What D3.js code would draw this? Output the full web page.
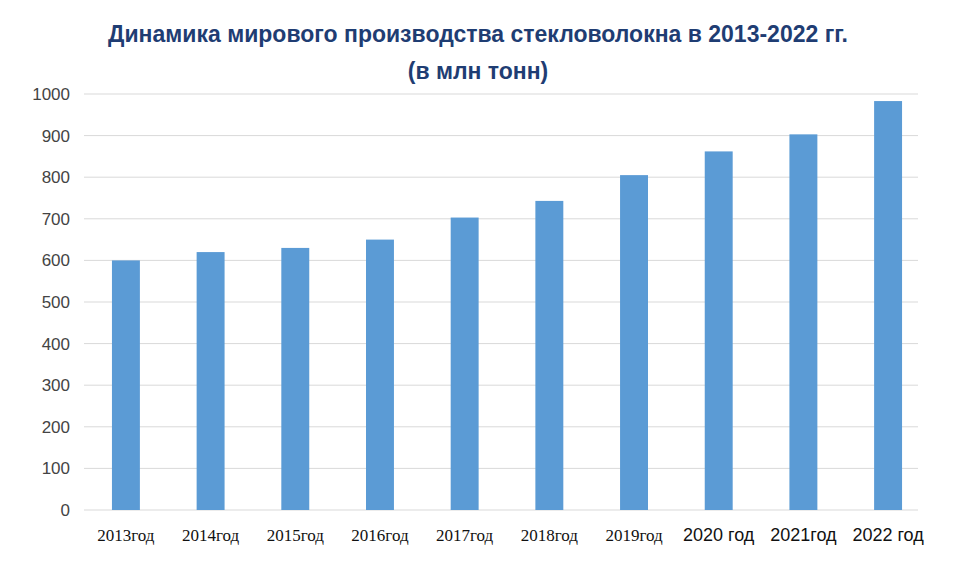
<!DOCTYPE html><html><head><meta charset="utf-8"><script src="https://cdn.jsdelivr.net/npm/d3@7"></script>
<style>body{margin:0;background:#fff}</style></head><body><svg id="c" width="958" height="576"></svg>
<script>
const categories=["2013год","2014год","2015год","2016год","2017год","2018год","2019год","2020 год","2021год","2022 год"];
const values=[600,620,630,650,703,743,805,862,903,983];
const yTicks=[0,100,200,300,400,500,600,700,800,900,1000];
const svg=d3.select("#c");
const x=d3.scaleBand().domain(categories).range([84,930]).paddingInner(0.67).paddingOuter(0.33);
const y=d3.scaleLinear().domain([0,1000]).range([510,94]);
svg.append("g").selectAll("line").data(yTicks).join("line")
 .attr("x1",84).attr("x2",918).attr("y1",d=>y(d)).attr("y2",d=>y(d)).attr("stroke","#d9d9d9");
svg.append("g").selectAll("text").data(yTicks).join("text")
 .attr("x",70).attr("y",d=>y(d)+6).attr("text-anchor","end").attr("font-family","Liberation Sans, Arial").attr("font-size",17).attr("fill","#444").text(d=>d);
svg.append("g").selectAll("rect").data(values).join("rect")
 .attr("x",(d,i)=>x(categories[i])).attr("width",x.bandwidth()).attr("y",d=>y(d)).attr("height",d=>y(0)-y(d)).attr("fill","#5b9bd5");
svg.append("g").selectAll("text").data(categories).join("text")
 .attr("x",d=>x(d)+x.bandwidth()/2).attr("y",541).attr("text-anchor","middle")
 .attr("font-family",(d,i)=>i<7?"Liberation Serif, Times New Roman":"Liberation Sans, Arial")
 .attr("font-size",(d,i)=>i<7?17:18).attr("fill","#111").text(d=>d);
const t=svg.append("text").attr("text-anchor","middle").attr("font-family","Liberation Sans, Arial").attr("font-weight","bold").attr("font-size",23).attr("fill","#1f3d73");
t.append("tspan").attr("x",478).attr("y",42).text("Динамика мирового производства стекловолокна в 2013-2022 гг.");
t.append("tspan").attr("x",478).attr("y",79).text("(в млн тонн)");
</script></body></html>
